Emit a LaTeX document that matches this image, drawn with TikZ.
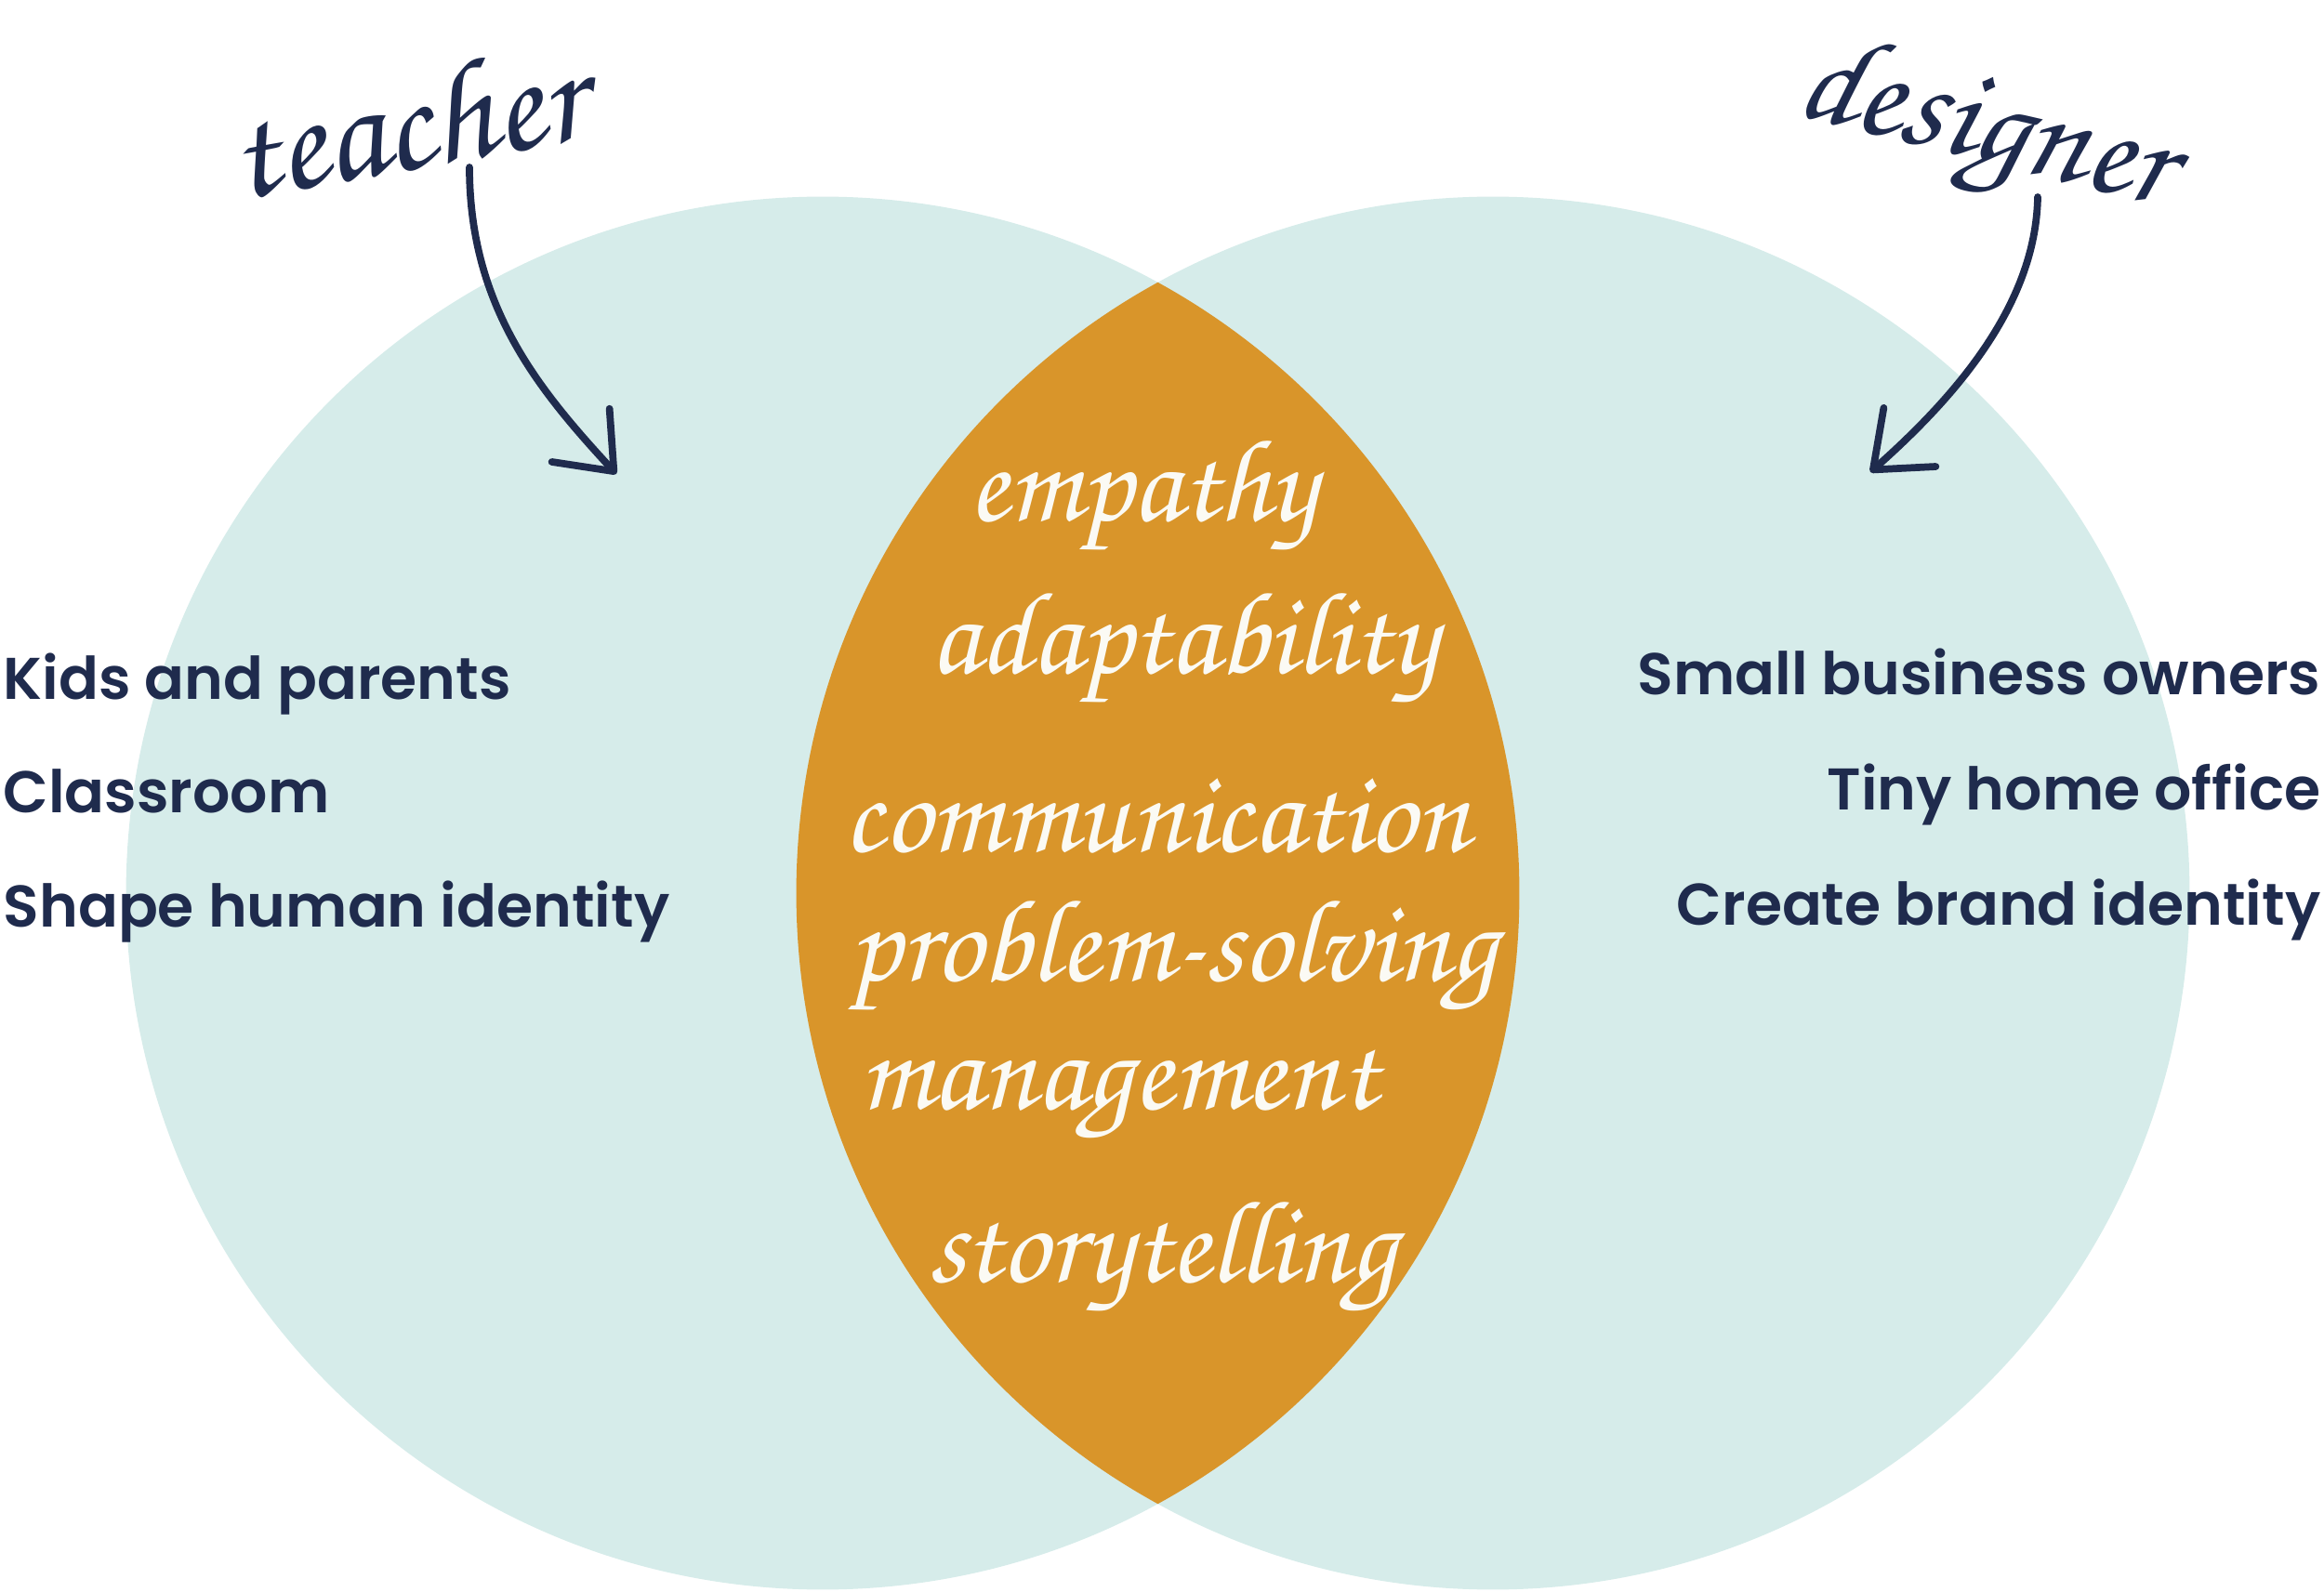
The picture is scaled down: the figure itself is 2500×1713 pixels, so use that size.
\documentclass[tikz,border=0pt]{standalone}
\usepackage{fontspec}
\newfontfamily\labelfont{Poppins}[UprightFont={* SemiBold}]
\newfontfamily\handfont{texgyrechorus-mediumitalic.otf}
\usepackage{xcolor}
\usetikzlibrary{arrows.meta}
\definecolor{venn}{HTML}{D6ECEA}
\definecolor{overlap}{HTML}{D9952A}
\definecolor{ink}{HTML}{1F2B4D}
\definecolor{chalk}{HTML}{FBFAF4}

\begin{document}
\begin{tikzpicture}[x=0.01cm, y=-0.01cm,
  side/.style={font=\labelfont\fontsize{18}{22}\selectfont, text=ink, inner sep=0pt},
  skill/.style={font=\handfont\fontsize{36}{40}\selectfont, text=chalk, inner sep=0pt, anchor=base},
  role/.style={font=\handfont\fontsize{44}{48}\selectfont, text=ink, inner sep=0pt, anchor=base},
  pointer/.style={ink, line width=2.2pt, line cap=round, -{Straight Barb[length=15pt, width=24pt, round]}}
]
\useasboundingbox (0,0) rectangle (2500,1713);
% the two circles and their overlap
\fill[venn] (885,961) circle[radius=7.49cm];
\fill[venn] (1606,961) circle[radius=7.49cm];
\begin{scope}
  \clip (885,961) circle[radius=7.49cm];
  \fill[overlap] (1606,961) circle[radius=7.49cm];
\end{scope}

% roles
\node[role, rotate=10] (teacher) at (445,182) {teacher};
\node[role, rotate=-14, font=\handfont\fontsize{41}{45}\selectfont] (designer) at (2128,172) {designer};
\coordinate (teachfrom) at (505,180);
\coordinate (teachto) at (663,510);
\coordinate (designfrom) at (2192,212);
\coordinate (designto) at (2012,508);
\draw[pointer] (teachfrom) .. controls (505,330) and (580,420) .. (teachto);
\draw[pointer] (designfrom) .. controls (2190,330) and (2100,430) .. (designto);

% left side
\node[side, anchor=base west] (kids) at (3,753) {Kids and parents};
\node[side, anchor=base west] (classroom) at (3,875) {Classroom};
\node[side, anchor=base west] (humanid) at (3,998) {Shape human identity};

% right side
\node[side, anchor=base east] (business) at (2497,748) {Small business owners};
\node[side, anchor=base east] (office) at (2497,872) {Tiny home office};
\node[side, anchor=base east] (brandid) at (2497,995) {Create brand identity};

% shared skills
\node[skill] (empathy) at (1229,561) {empathy};
\node[skill] (adapt) at (1273,725) {adaptability};
\node[skill] (comm) at (1244,917) {communication};
\node[skill] (problem) at (1262,1055) {problem-solving};
\node[skill] (manage) at (1203,1193) {management};
\node[skill] (story) at (1250,1379) {storytelling};
\end{tikzpicture}
\end{document}
